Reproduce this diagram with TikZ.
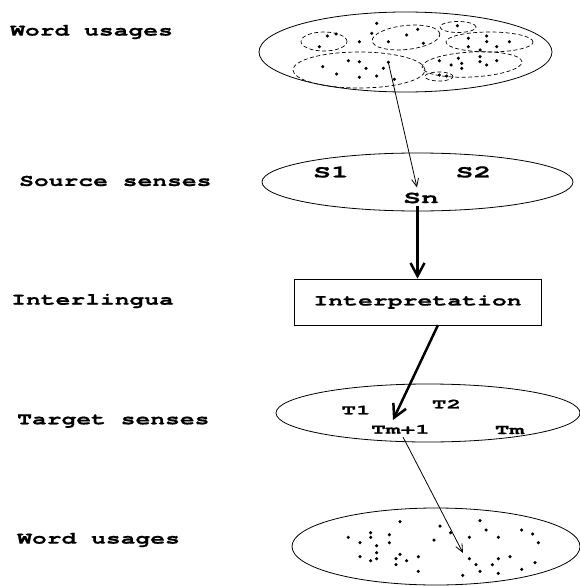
\documentclass[tikz,border=0pt]{standalone}
\usepackage{fontspec}
\usetikzlibrary{arrows.meta,shapes.geometric}
\newfontfamily\courside[FakeStretch=1.45,FakeBold=0.6]{TeX Gyre Cursor}
\newfontfamily\courS[FakeStretch=1.7,FakeBold=0.6]{TeX Gyre Cursor}
\newfontfamily\courT[FakeStretch=1.75,FakeBold=0.6]{TeX Gyre Cursor}
\newfontfamily\courI[FakeStretch=1.55,FakeBold=0.6]{TeX Gyre Cursor}
\begin{document}
\begin{tikzpicture}[x=1pt,y=-1pt,
 side/.style={font=\courside\bfseries\fontsize{17}{17}\selectfont, anchor=west, inner sep=0pt},
 slab/.style={font=\courS\bfseries\fontsize{17.5}{17.5}\selectfont, inner sep=0pt},
 tlab/.style={font=\courT\bfseries\fontsize{14}{14}\selectfont, inner sep=0pt},
 oval/.style={draw, ellipse, inner sep=0pt, line width=0.8pt},
 sub/.style={draw, ellipse, inner sep=0pt, line width=0.7pt, dash pattern=on 4pt off 2.5pt},
 dot/.style={circle, fill, inner sep=0pt, minimum size=3.5pt},
 thinarrow/.style={line width=0.8pt, -{Straight Barb[length=8pt,width=7pt]}},
 thickarrow/.style={line width=2.5pt, -{Straight Barb[length=13pt,width=14pt]}}]
\useasboundingbox (0,0) rectangle (579,586);
\fill[white] (0,0) rectangle (579,586);

% side labels
\node[side] (l1) at (10,32) {Word usages};
\node[side] (l2) at (19,181) {Source senses};
\node[side] (l3) at (11,301) {Interlingua};
\node[side] (l4) at (17,421) {Target senses};
\node[side] (l5) at (17,540) {Word usages};

% top ellipse: word usages
\node[oval, minimum width=293pt, minimum height=80pt] (wu1) at (405.5,52) {};
\node[sub, minimum width=46pt, minimum height=19pt] (g1) at (324,41.5) {};
\node[sub, minimum width=68pt, minimum height=24pt, rotate=6] (g2) at (406,37.5) {};
\node[sub, minimum width=36pt, minimum height=11pt] (g3) at (458,27) {};
\node[sub, minimum width=87pt, minimum height=20pt] (g4) at (489.5,42) {};
\node[sub, minimum width=132pt, minimum height=36pt] (g5) at (359,70) {};
\node[sub, minimum width=100pt, minimum height=25pt, rotate=3] (g6) at (472,64.5) {};
\node[sub, minimum width=28pt, minimum height=9pt] (g7) at (439,76.5) {};
\foreach \p [count=\i] in {(376.7,23.3),(327.3,36),(336,34),(319.3,46.7),(359.3,41.7),(371.7,33.3),
  (406.7,35),(417.7,29.3),(388.3,41.7),(423.3,43.3),(457.3,25.7),(468.3,38.3),(486.7,36),
  (468.3,46.7),(486.7,41.7),(509.3,41.7),(496.7,46.7),(480,50),(348.3,60.7),(359.3,61.7),
  (322.7,66.7),(336.7,74),(366,68.3),(383.3,68.3),(359.3,77.3),(376.7,76),(394.3,79.3),
  (439.3,60.7),(458.3,58.3),(480,56.7),(451,65),(461.7,63.3),(461.7,68.3),(480,61.7),
  (496.7,60.7),(486.7,65),(439.3,75),(446.7,76)}
  \node[dot] (t\i) at \p {};
\node[dot] (src) at (388.3,62.3) {};

% source senses
\node[oval, minimum width=311pt, minimum height=58pt] (ss) at (417.5,182) {};
\node[slab] (s1) at (331,172) {S1};
\node[slab] (s2) at (473.5,172) {S2};
\node[slab] (sn) at (421,198) {Sn};

% interlingua box
\node[draw, line width=0.8pt, minimum width=247pt, minimum height=46pt, inner sep=0pt,
  font=\courI\bfseries\fontsize{16}{16}\selectfont] (box) at (417.5,302) {Interpretation};

% target senses
\node[oval, minimum width=304pt, minimum height=58pt] (ts) at (428,413) {};
\node[tlab] (tt1) at (356,410) {T1};
\node[tlab] (tt2) at (446.5,404) {T2};
\node[tlab] (ttm1) at (400.5,429.5) {Tm+1};
\node[tlab] (ttm) at (509.5,430) {Tm};

% bottom ellipse: word usages
\node[oval, minimum width=288pt, minimum height=77pt] (wu2) at (436,546.5) {};
\foreach \p [count=\i] in {(400,521.7),(348.3,537.3),(370.7,532.7),(370.7,537.3),(389.3,534.7),
  (360,542.7),(376.7,545.7),(389.3,542.7),(376.7,552.7),(360,556.7),(370.7,560.7),(376.7,558.7),
  (396,558.7),(400,554.3),(406.7,560.7),(396,564.7),(418.3,556.7),(418.3,571.3),(440,526),
  (450.7,532.7),(434,540),(469.3,537.3),(480,520.7),(486,530),(498.3,537.3),(521.7,530),
  (532.7,534),(538.3,542.7),(469.3,558.7),(476,564.7),(492.3,564.7),(498.3,558.7),(510,556.7),
  (480,571.3),(498.3,573.3),(462.7,575.3),(521.7,569.3),(535,562.7)}
  \node[dot] (b\i) at \p {};

% connectors
\coordinate (a1end) at (417,187.5);
\coordinate (a2start) at (417.5,206);
\coordinate (a3start) at (438,325);
\coordinate (a3end) at (393,420);
\coordinate (a4start) at (403,437);
\coordinate (a4end) at (463,553);
\draw[thinarrow] (src.center) -- (a1end);
\draw[thickarrow] (a2start) -- (box.north);
\draw[thickarrow] (a3start) -- (a3end);
\draw[thinarrow] (a4start) -- (a4end);
\end{tikzpicture}
\end{document}
